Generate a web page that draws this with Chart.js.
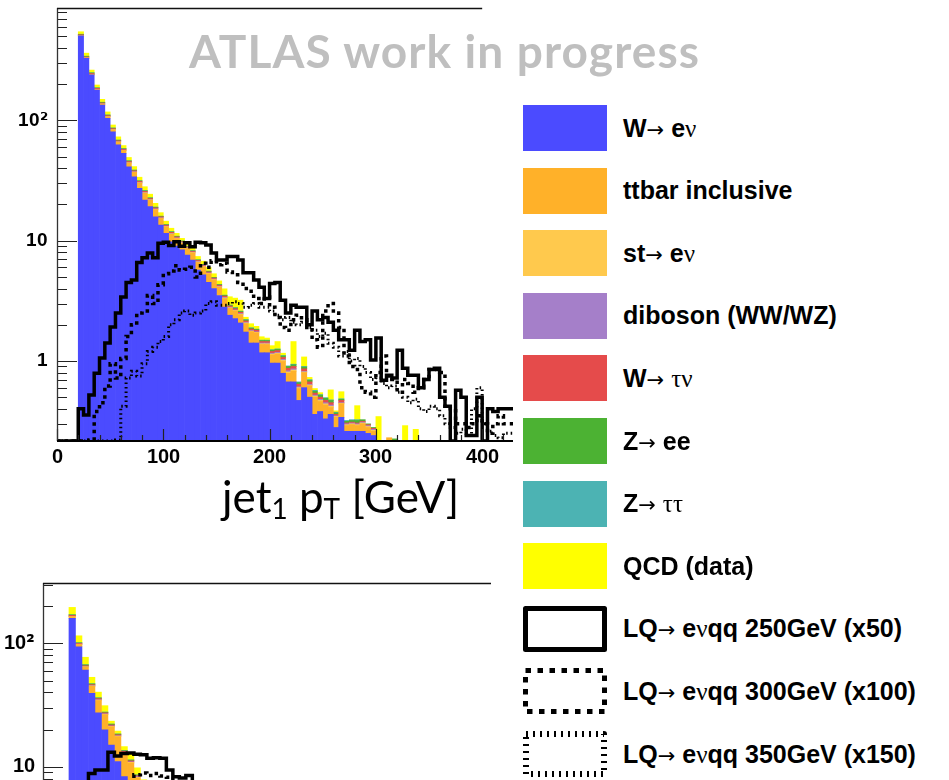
<!DOCTYPE html>
<html>
<head>
<meta charset="utf-8">
<script src="https://cdn.jsdelivr.net/npm/chart.js"></script>
<style>
  /* tick font: Liberation Sans Bold digits with a larger DejaVu superscript two */
  @font-face { font-family: 'TickFont'; font-weight: 700; src: local('Liberation Sans Bold'), local('LiberationSans-Bold'); unicode-range: U+0000-00B1, U+00B3-FFFF; }
  @font-face { font-family: 'TickFont'; font-weight: 700; src: local('DejaVu Sans Bold'), local('DejaVuSans-Bold'); unicode-range: U+00B2; }
  html, body { margin: 0; padding: 0; background: #fff; }
  body { width: 949px; height: 780px; overflow: hidden; position: relative; font-family: 'Liberation Sans', Arial, sans-serif; }
  #topChart { position: absolute; left: 0; top: 0; }
  #bottomChart { position: absolute; left: 0; top: 575px; }
  #title { position: absolute; left: 189px; top: 28px; font: 700 46px Lato, 'Open Sans', sans-serif; letter-spacing: 1.1px; line-height: 1; color: #bfbfbf; white-space: nowrap; }
  #xtitle { position: absolute; left: 222px; top: 474px; font: 400 44px Lato, 'Open Sans', sans-serif; line-height: 1; color: #000; white-space: nowrap; }
  #xtitle .sub { font-size: 28px; position: relative; top: 6px; }
  #legend { position: absolute; left: 523px; top: 105px; width: 426px; height: 675px; }
  .row { position: absolute; left: 0; height: 46px; display: flex; align-items: center; white-space: nowrap; }
  .row canvas { display: block; }
  .row .lab { margin-left: 16px; font: 700 25px 'Liberation Sans', Arial, sans-serif; color: #000; }
  .row .arr { font-family: 'DejaVu Sans', sans-serif; font-weight: 400; font-size: 21px; }
  .row .gr { font-family: 'Liberation Serif', serif; font-weight: 400; }
</style>
</head>
<body>
<canvas id="topChart" width="520" height="480"></canvas>
<canvas id="bottomChart" width="500" height="440"></canvas>
<div id="title">ATLAS work in progress</div>
<div id="xtitle">jet<span class="sub">1</span> p<span class="sub">T</span> [GeV]</div>
<div id="legend"></div>

<script>
// ---- binning (GeV) --------------------------------------------------------
const BIN_W = 5;

// ---- legend labels ------------------------------------------------------
const LABELS = [
  'W→ eν', 'ttbar inclusive', 'st→ eν', 'diboson (WW/WZ)', 'W→ τν',
  'Z→ ee', 'Z→ ττ', 'QCD (data)',
  'LQ→ eνqq 250GeV (x50)', 'LQ→ eνqq 300GeV (x100)', 'LQ→ eνqq 350GeV (x150)'
];

// ---- tick labels ----------------------------------------------------------
const X_TICKS_TOP = [0,20,40,60,80,100,120,140,160,180,200,220,240,260,280,300,320,340,360,380,400,420];
const X_TICKS_BOTTOM = [0,20,40,60,80,100,120,140,160,180,200,220,240,260,280,300,320,340];
const X_LABELS = [0, 100, 200, 300, 400];
const Y_TICKS_TOP = [0.3,0.4,0.5,0.6,0.7,0.8,0.9,1,2,3,4,5,6,7,8,9,10,20,30,40,50,60,70,80,90,100,200,300,400,500,600,700,800];
const Y_TICKS_BOTTOM = [0.3,0.4,0.5,0.6,0.7,0.8,0.9,1,2,3,4,5,6,7,8,9,10,20,30,40,50,60,70,80,90,100,200,300];
const Y_MAJOR = [1, 10, 100];
const Y_LABELS = { 1: '1', 10: '10', 100: '10\u00B2' };

// ---- leading jet pT: stacked backgrounds, events per 5 GeV bin (0-430 GeV) ----
const wenu = [
  0, 0, 0, 0, 504, 328, 239, 179, 134, 104,
  80.5, 62.5, 53.2, 41.2, 34, 27.3, 21.8, 19.2, 15.8, 13.5,
  11.5, 9.8, 9.0, 8.4, 7.6, 6.9, 5.7, 5.2, 4.5, 4.0,
  3.5, 2.8, 2.4, 2.25, 2.07, 1.74, 1.41, 1.41, 1.17, 1.17,
  0.96, 0.96, 0.79, 0.67, 0.67, 0.47, 0.6, 0.5, 0.36, 0.38,
  0.33, 0.36, 0.28, 0.34, 0.26, 0.26, 0.26, 0.26, 0.25, 0.24,
  0.08, 0.1, 0.1, 0.1, 0.05, 0.05, 0.05, 0.03, 0.03, 0.02,
  0, 0, 0, 0, 0, 0, 0, 0, 0, 0,
  0, 0, 0, 0, 0, 0
];
const ttbar = [
  0, 0, 0, 0, 2, 2, 2, 2, 2.5, 3,
  3, 3.5, 3, 3, 3, 2.8, 3, 2.5, 2.3, 1.8,
  1.5, 1.5, 1.4, 1.1, 1.0, 1.0, 0.9, 0.85, 0.8, 0.7,
  0.6, 0.5, 0.34, 0.35, 0.35, 0.3, 0.34, 0.3, 0.2, 0.2,
  0.16, 0.18, 0.2, 0.12, 0.15, 0.12, 0.2, 0.12, 0.14, 0.08,
  0.1, 0.05, 0.06, 0.1, 0.03, 0.035, 0.03, 0.04, 0.03, 0.02,
  0.06, 0.05, 0.13, 0.11, 0.05, 0.05, 0.05, 0.04, 0.03, 0.02,
  0, 0, 0, 0, 0, 0, 0, 0, 0, 0,
  0, 0, 0, 0, 0, 0
];
const singleTop = [
  0, 0, 0, 0, 0.5, 0.4, 0.3, 0.3, 0.3, 0.3,
  0.2, 0.2, 0.2, 0.2, 0.2, 0.2, 0.2, 0.15, 0.15, 0.1,
  0.1, 0.1, 0.08, 0.08, 0.07, 0.07, 0.06, 0.06, 0.05, 0.05,
  0.04, 0.04, 0.03, 0.03, 0.03, 0.03, 0.02, 0.02, 0.02, 0.02,
  0.02, 0.02, 0.02, 0.02, 0.02, 0.01, 0.01, 0.01, 0.01, 0.01,
  0.01, 0.01, 0.005, 0.005, 0.005, 0.005, 0.005, 0.005, 0.005, 0.005,
  0.005, 0, 0, 0, 0, 0, 0, 0, 0, 0,
  0, 0, 0, 0, 0, 0, 0, 0, 0, 0,
  0, 0, 0, 0, 0, 0
];
const diboson = [
  0, 0, 0, 0, 0.5, 0.4, 0.3, 0.3, 0.3, 0.3,
  0.2, 0.2, 0.2, 0.2, 0.2, 0.2, 0.2, 0.15, 0.15, 0.1,
  0.1, 0.1, 0.08, 0.08, 0.07, 0.06, 0.06, 0.05, 0.05, 0.05,
  0.04, 0.04, 0.03, 0.03, 0.03, 0.03, 0.02, 0.02, 0.02, 0.02,
  0.02, 0.02, 0.02, 0.02, 0.02, 0.01, 0.01, 0.01, 0.01, 0.01,
  0.01, 0.01, 0.005, 0.005, 0.005, 0.005, 0.005, 0.005, 0.005, 0.005,
  0, 0, 0, 0, 0, 0, 0, 0, 0, 0,
  0, 0, 0, 0, 0, 0, 0, 0, 0, 0,
  0, 0, 0, 0, 0, 0
];
const wtaunu = [
  0, 0, 0, 0, 8, 6, 4, 3, 2.5, 2,
  1.5, 1.3, 1, 0.9, 0.7, 0.6, 0.5, 0.4, 0.35, 0.3,
  0.25, 0.22, 0.2, 0.15, 0.14, 0.12, 0.12, 0.1, 0.1, 0.09,
  0.08, 0.08, 0.06, 0.06, 0.06, 0.05, 0.05, 0.05, 0.04, 0.04,
  0.04, 0.04, 0.04, 0.04, 0.04, 0.03, 0.04, 0.03, 0.02, 0.02,
  0.02, 0.02, 0.01, 0.02, 0.005, 0.005, 0.005, 0.005, 0.005, 0.005,
  0, 0, 0, 0, 0, 0, 0, 0, 0, 0,
  0, 0, 0, 0, 0, 0, 0, 0, 0, 0,
  0, 0, 0, 0, 0, 0
];
const zee = [
  0, 0, 0, 0, 4, 4, 2.5, 1.5, 1.5, 1,
  0.8, 0.7, 0.5, 0.5, 0.4, 0.3, 0.3, 0.25, 0.2, 0.15,
  0.12, 0.12, 0.1, 0.1, 0.09, 0.08, 0.07, 0.06, 0.06, 0.05,
  0.05, 0.05, 0.04, 0.04, 0.04, 0.04, 0.03, 0.03, 0.03, 0.03,
  0.03, 0.03, 0.03, 0.03, 0.03, 0.02, 0.03, 0.02, 0.02, 0.02,
  0.02, 0.02, 0.01, 0.01, 0.01, 0.01, 0.015, 0.01, 0.005, 0.005,
  0, 0, 0, 0.015, 0, 0, 0, 0, 0, 0,
  0, 0, 0, 0, 0, 0, 0, 0, 0, 0,
  0, 0, 0, 0, 0, 0
];
const ztautau = [
  0, 0, 0, 0, 2, 1.5, 1, 0.8, 0.6, 0.5,
  0.4, 0.3, 0.2, 0.2, 0.2, 0.1, 0.1, 0.1, 0.1, 0.05,
  0.05, 0.05, 0.05, 0.04, 0.04, 0.03, 0.03, 0.03, 0.03, 0.02,
  0.02, 0.02, 0.02, 0.02, 0.02, 0.02, 0.02, 0.01, 0.01, 0.01,
  0.01, 0.01, 0.01, 0.01, 0.01, 0.01, 0.01, 0.01, 0.01, 0.005,
  0.005, 0.005, 0.005, 0.005, 0.005, 0.005, 0.005, 0, 0, 0,
  0, 0, 0, 0, 0, 0, 0, 0, 0, 0,
  0, 0, 0, 0, 0, 0, 0, 0, 0, 0,
  0, 0, 0, 0, 0, 0
];
const qcd = [
  0, 0, 0, 0, 25, 20, 13, 10, 8, 6.5,
  5, 4.3, 3.5, 3, 2.6, 2.2, 2, 1.6, 1.4, 1.1,
  0.9, 0.8, 0.6, 0.5, 0.45, 0.4, 0.45, 0.4, 0.4, 0.35,
  0.3, 0.45, 0.5, 0.55, 0.6, 0.1, 0.15, 0.1, 0.1, 0.06,
  0.1, 0.19, 0.05, 0, 0.51, 0, 0.18, 0.03, 0.02, 0.02,
  0, 0.1, 0.01, 0.07, 0, 0, 0.1, 0, 0, 0,
  0.2, 0, 0, 0, 0, 0.19, 0, 0.2, 0, 0,
  0, 0, 0, 0, 0, 0, 0, 0, 0, 0,
  0, 0, 0, 0, 0, 0
];

// ---- leading jet pT: scaled LQ signals -----------------------------------
const lq250 = [
  0, 0, 0, 0, 0, 0.40, 0.355, 0.52, 0.79, 1.06,
  1.41, 1.92, 2.5, 3.4, 4.5, 4.7, 6.6, 7.2, 7.9, 7.2,
  9.5, 9.7, 9.1, 9.8, 9.0, 9.6, 8.9, 9.7, 9.6, 9.2,
  7.9, 6.9, 6.9, 7.4, 7.4, 6.9, 5.4, 5.4, 4.7, 4.1,
  3.3, 4.4, 4.5, 3.2, 2.5, 2.9, 2.8, 2.8, 2.0, 2.6,
  2.2, 2.3, 2.1, 1.8, 1.5, 1.5, 1.23, 1.8, 1.45, 1.5,
  1.02, 1.55, 0.69, 0.76, 0.72, 1.23, 0.87, 0.76, 0.76, 0.6,
  0.7, 0.85, 0.87, 0.5, 0.42, 0, 0.57, 0.5, 0.24, 0.24,
  0.5, 0, 0.4, 0.38, 0.4, 0.4
];
const lq300 = [
  0, 0, 0, 0, 0, 0, 0, 0.22, 0.38, 0.45,
  0.62, 0.95, 0.72, 1.05, 1.6, 2.0, 2.5, 2.6, 3.5, 3.0,
  4.3, 5.3, 5.6, 6.2, 5.7, 5.8, 6.0, 5.0, 6.5, 6.0,
  6.8, 6.3, 6.5, 5.5, 5.2, 4.5, 4.0, 3.8, 3.3, 3.0,
  3.4, 2.8, 2.3, 1.9, 1.8, 2.2, 2.4, 2.2, 1.9, 1.5,
  1.3, 2.6, 3.0, 2.5, 1.9, 1.1, 0.9, 0.85, 0.6, 0.55,
  0.5, 0.8, 1.1, 0.75, 0.7, 0.55, 0.7, 0.65, 0.55, 0.6,
  0.7, 0.85, 0.85, 0.8, 0.42, 0.4, 0.3, 0.3, 0.28, 0.3,
  0.35, 0.3, 0.25, 0.3, 0.35, 0.3
];
const lq350 = [
  0, 0, 0, 0, 0, 0, 0, 0, 0, 0,
  0, 0, 0.22, 0.42, 0.72, 0.82, 0.75, 0.95, 1.2, 1.3,
  1.45, 1.6, 2.0, 2.2, 2.5, 2.6, 2.4, 2.5, 2.6, 3.0,
  3.1, 2.9, 2.9, 3.0, 3.1, 3.0, 2.8, 2.9, 3.0, 2.8,
  2.8, 2.6, 2.4, 2.2, 2.3, 2.1, 2.0, 2.1, 1.9, 1.8,
  1.6, 1.7, 1.4, 1.3, 1.1, 1.2, 1.0, 1.05, 0.9, 0.8,
  0.7, 0.72, 0.65, 0.6, 0.62, 0.55, 0.5, 0.45, 0.48, 0.4,
  0.38, 0.42, 0.4, 0.35, 0.3, 0.28, 0.25, 0.27, 0.24, 0.4,
  0.6, 0.3, 0.26, 0.24, 0.23, 0.25
];

// ---- second distribution (lower pad), events per 5 GeV bin (0-150 GeV) ----
const wenuB    = [0,0,0,0,160,94,60.8,39.4,27.4,19.9, 15,11,8.3,6.2,4.6,3.6,2.8,2.2,1.8,1.5, 1.2,1.0,0.85,0.7,0.6,0.5,0.42,0.36,0.3,0.26];
const ttbarB   = [0,0,0,0,5,4,3.5,5.5,7,6.5, 6,6.5,4.5,4.5,3.5,3,2.5,2.2,1.8,1.5, 1.2,1,0.8,0.7,0.6,0.5,0.4,0.35,0.3,0.25];
const singleTopB = [0,0,0,0,0.5,0.4,0.3,0.3,0.3,0.25, 0.2,0.2,0.15,0.15,0.1,0.1,0.08,0.07,0.06,0.05, 0.04,0.04,0.03,0.03,0.02,0.02,0.02,0.01,0.01,0.01];
const dibosonB = [0,0,0,0,0.4,0.3,0.3,0.3,0.25,0.2, 0.2,0.15,0.15,0.1,0.1,0.08,0.07,0.06,0.05,0.05, 0.04,0.03,0.03,0.02,0.02,0.02,0.01,0.01,0.01,0.01];
const wtaunuB  = [0,0,0,0,3,1.5,1,0.8,0.7,0.5, 0.4,0.3,0.25,0.2,0.15,0.12,0.1,0.08,0.07,0.06, 0.05,0.04,0.04,0.03,0.03,0.02,0.02,0.02,0.01,0.01];
const zeeB     = [0,0,0,0,1.5,0.8,1,0.6,0.4,0.3, 0.3,0.2,0.15,0.15,0.1,0.1,0.08,0.06,0.05,0.04, 0.04,0.03,0.03,0.02,0.02,0.02,0.01,0.01,0.01,0.01];
const ztautauB = [0,0,0,0,0.5,0.3,0.3,0.2,0.2,0.1, 0.1,0.1,0.05,0.05,0.04,0.03,0.03,0.02,0.02,0.02, 0.01,0.01,0.01,0.01,0.01,0.005,0.005,0.005,0.005,0.005];
const qcdB     = [0,0,0,0,25,14,10,6,4,3.5, 1.2,1,1,1.5,1.2,0.8,0.6,0.5,0.4,0.3, 0.3,0.2,0.2,0.15,0.1,0.1,0.1,0.08,0.06,0.05];
const lq250B   = [0,0,0,0,0,0.5,1.5,4.5,8.8,9.4, 9.4,13.1,12.2,12.8,12.9,12.6,12.5,11.7,11.8,11.7, 9.4,8.3,8.1,8.5,7.0,6.0,5.5,5.0,4.5,4.0];
const lq300B   = [0,0,0,0,0,0,0,0.3,0.6,1.2, 2,3,4.5,6,7.5,8.6,8.9,8.5,8.8,8.4, 8.2,7.2,7.0,6.5,6.0,5.5,5.0,4.6,4.2,3.8];
const lq350B   = [0,0,0,0,0,0,0,0,0,0, 0.3,0.6,1,1.5,2,2.6,3.1,3.5,3.9,4.2, 4.5,4.6,4.8,4.9,5.0,4.9,4.8,4.6,4.4,4.2];

// ---- styles -------------------------------------------------------------
const FILL = ['#4b4bff', '#ffb129', '#ffc94d', '#a57fc9', '#e54b4b', '#4cb233', '#4cb3b3', '#ffff00'];
const LINE_STYLE = [
  { width: 3.5, dash: [],       legendWidth: 5, legendDash: [] },
  { width: 3.5, dash: [3.5, 4], legendWidth: 5, legendDash: [5.5, 6.5] },
  { width: 3,   dash: [1.5, 3], legendWidth: 6, legendDash: [2, 5] }
];

// bar centres at the middle of each 5 GeV bin
function barPoints(vals) {
  return vals.map((v, i) => ({ x: i * BIN_W + BIN_W / 2, y: v > 0 ? v : null }));
}
// outline of a step histogram through bin edges; empty bins lie on the frame floor
function stepPoints(vals, floor) {
  const pts = vals.map((v, i) => ({ x: i * BIN_W, y: Math.max(v, floor) }));
  pts.push({ x: vals.length * BIN_W, y: Math.max(vals[vals.length - 1], floor) });
  return pts;
}

function buildDatasets(bkg, sig, floor) {
  const sets = bkg.map((vals, i) => ({
    type: 'bar', label: LABELS[i], data: barPoints(vals),
    backgroundColor: FILL[i], borderWidth: 0, stack: 'bkg', order: 1,
    barPercentage: 1, categoryPercentage: 1
  }));
  sig.forEach((vals, j) => {
    const st = LINE_STYLE[j];
    sets.push({
      type: 'line', label: LABELS[8 + j], data: stepPoints(vals, floor),
      borderColor: '#000', backgroundColor: '#fff', borderWidth: st.width, borderDash: st.dash,
      borderCapStyle: 'butt', borderJoinStyle: 'miter',
      stepped: 'after', pointRadius: 0, fill: false, stack: 'sig' + j, order: 0,
      legendWidth: st.legendWidth, legendDash: st.legendDash
    });
  });
  return sets;
}

// frame, inward-pointing tick marks and axis lines drawn over the histograms
const frameTicks = {
  id: 'frameTicks',
  afterDatasetsDraw(chart, args, o) {
    const { ctx, chartArea: a, scales: { x, y } } = chart;
    ctx.save();
    ctx.strokeStyle = '#222';
    ctx.lineWidth = 1.2;
    ctx.beginPath();
    y.ticks.forEach(t => {
      const py = Math.round(y.getPixelForValue(t.value)) + 0.5;
      if (py < a.top - 1 || py > a.bottom + 1) return;
      const len = Y_MAJOR.includes(t.value) ? o.yMajor : o.yMinor;
      ctx.moveTo(a.left, py); ctx.lineTo(a.left + len, py);
    });
    x.ticks.forEach(t => {
      const px = Math.round(x.getPixelForValue(t.value)) + 0.5;
      const len = t.value % 100 === 0 ? o.xMajor : o.xMinor;
      ctx.moveTo(px, a.bottom); ctx.lineTo(px, a.bottom - len);
    });
    ctx.stroke();

    ctx.beginPath();
    ctx.strokeStyle = '#333'; ctx.lineWidth = 1.3;
    ctx.moveTo(a.left + 0.5, a.top); ctx.lineTo(a.left + 0.5, a.bottom);
    ctx.stroke();

    ctx.beginPath();
    ctx.strokeStyle = '#111'; ctx.lineWidth = 1.6;
    const xe = o.topTo != null ? x.getPixelForValue(o.topTo) : a.right;
    ctx.moveTo(a.left, a.top + 0.5); ctx.lineTo(xe, a.top + 0.5);
    ctx.stroke();

    ctx.beginPath();
    ctx.strokeStyle = '#000'; ctx.lineWidth = 2;
    ctx.moveTo(a.left, a.bottom); ctx.lineTo(a.right, a.bottom);
    ctx.stroke();
    ctx.restore();
  }
};

Chart.defaults.font.family = "TickFont, 'Liberation Sans', Arial, sans-serif";
Chart.defaults.color = '#000';

function makeChart(id, cfg) {
  return new Chart(document.getElementById(id), {
    type: 'bar',
    data: { datasets: buildDatasets(cfg.bkg, cfg.sig, cfg.yMin) },
    plugins: [frameTicks],
    options: {
      responsive: false,
      animation: false,
      layout: { padding: cfg.padding },
      plugins: {
        legend: { display: false },
        tooltip: { enabled: false },
        frameTicks: { yMajor: 20, yMinor: 10, xMajor: 12, xMinor: 6, topTo: cfg.topTo }
      },
      scales: {
        x: {
          type: 'linear', min: 0, max: cfg.xMax, stacked: true, offset: false,
          grid: { display: false, drawTicks: false, offset: false }, border: { display: false },
          afterBuildTicks: s => { s.ticks = cfg.xTicks.map(v => ({ value: v })); },
          afterFit: s => { s.height = 30; s.paddingLeft = 0; s.paddingRight = 0; },
          ticks: {
            autoSkip: false, maxRotation: 0, padding: cfg.xPad,
            font: { size: 20, weight: 'bold' },
            callback: v => X_LABELS.includes(v) ? String(v) : ''
          }
        },
        y: {
          type: 'logarithmic', min: cfg.yMin, max: cfg.yMax, stacked: true,
          grid: { display: false, drawTicks: false }, border: { display: false },
          afterBuildTicks: s => { s.ticks = cfg.yTicks.map(v => ({ value: v })); },
          afterFit: s => { s.width = cfg.yWidth; s.paddingTop = 0; s.paddingBottom = 0; },
          ticks: {
            autoSkip: false, padding: cfg.yPad,
            font: { size: cfg.yFont, weight: 'bold' },
            callback: v => Y_LABELS[v] || ''
          }
        }
      }
    }
  });
}

// legend rows built from the upper chart's datasets
function buildLegend(chart) {
  const box = document.getElementById('legend');
  const PITCH = 62.6;
  chart.data.datasets.forEach((ds, i) => {
    const row = document.createElement('div');
    row.className = 'row';
    row.style.top = (i * PITCH) + 'px';
    const c = document.createElement('canvas');
    c.width = 84; c.height = 46;
    const g = c.getContext('2d');
    if (ds.type === 'bar') {
      g.fillStyle = ds.backgroundColor;
      g.fillRect(0, 0, 84, 46);
    } else {
      const w = ds.legendWidth, h = w / 2;
      g.strokeStyle = '#000';
      g.lineWidth = w;
      g.lineJoin = 'round';
      g.setLineDash(ds.legendDash);
      g.strokeRect(h, h, 84 - w, 46 - w);
    }
    const lab = document.createElement('span');
    lab.className = 'lab';
    lab.innerHTML = ds.label
      .replace(/→/g, '<span class="arr">\u2192</span>')
      .replace(/([ντ])/g, '<span class="gr">$1</span>');
    row.appendChild(c);
    row.appendChild(lab);
    box.appendChild(row);
  });
}

function drawAll() {
  const topChart = makeChart('topChart', {
    bkg: [wenu, ttbar, singleTop, diboson, wtaunu, zee, ztautau, qcd],
    sig: [lq250, lq300, lq350],
    xMax: 429, xTicks: X_TICKS_TOP, yMin: 0.216, yMax: 860, yTicks: Y_TICKS_TOP,
    padding: { top: 8, left: 0, right: 7, bottom: 9 },
    yWidth: 57, yPad: 9, yFont: 19, xPad: 4, topTo: 400
  });
  makeChart('bottomChart', {
    bkg: [wenuB, ttbarB, singleTopB, dibosonB, wtaunuB, zeeB, ztautauB, qcdB],
    sig: [lq250B, lq300B, lq350B],
    xMax: 345, xTicks: X_TICKS_BOTTOM, yMin: 0.216, yMax: 309, yTicks: Y_TICKS_BOTTOM,
    padding: { top: 8, left: 0, right: 9, bottom: 13 },
    yWidth: 43, yPad: 8, yFont: 20, xPad: 4, topTo: null
  });
  buildLegend(topChart);
}

// wait for the tick font faces so the canvas labels use them
Promise.all([
  document.fonts.load('bold 20px TickFont', '10\u00B2'),
  document.fonts.load('bold 20px TickFont', '0123')
]).catch(() => {}).then(drawAll);
</script>
</body>
</html>
